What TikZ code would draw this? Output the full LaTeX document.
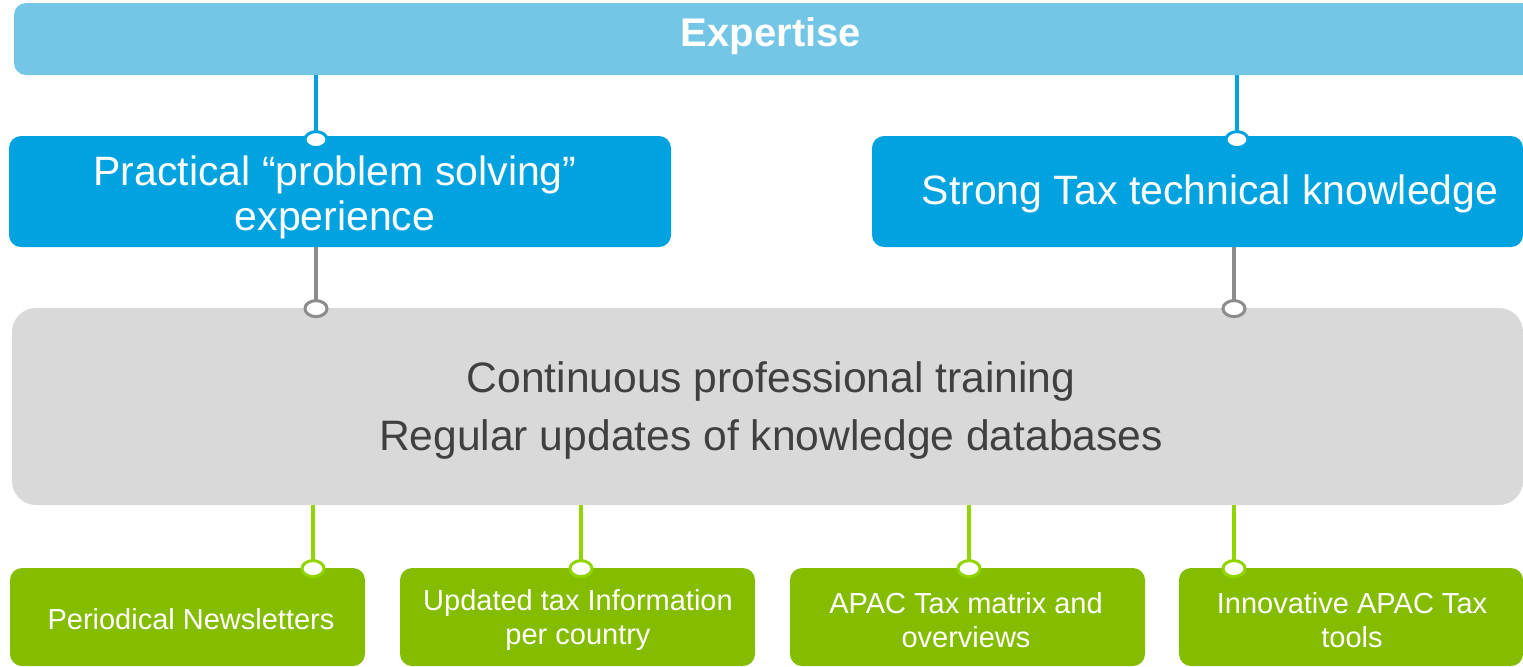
\documentclass[tikz,border=0pt]{standalone}
\usepackage{fontspec}
\setmainfont{Liberation Sans}
\definecolor{skyband}{HTML}{73C6E6}
\definecolor{bluebox}{HTML}{00A3DF}
\definecolor{greybox}{HTML}{D9D9D9}
\definecolor{greyline}{HTML}{8C8C8C}
\definecolor{greenbox}{HTML}{84BD00}
\definecolor{greenline}{HTML}{92D400}
\definecolor{darktext}{HTML}{404040}
\begin{document}
\begin{tikzpicture}[x=0.5pt,y=-0.5pt,
  box/.style={rectangle,rounded corners=6pt,inner sep=0pt,align=center,text=white},
  band/.style={box,fill=skyband,minimum width=762pt,minimum height=36pt},
  level/.style={box,fill=bluebox,minimum height=55.5pt},
  base/.style={box,rounded corners=12pt,fill=greybox,minimum width=755.5pt,minimum height=98.5pt},
  tool/.style={box,fill=greenbox,minimum height=49pt},
  label/.style={inner sep=0pt,align=center,text=white},
  link/.style={line width=2pt},
  knob/.style={fill=white,line width=1.5pt},
]
\useasboundingbox (0,0) rectangle (1523,666);

% boxes
\node[band] (expertise) at (776,39) {};
\node[level,minimum width=331pt] (practical) at (340,191.5) {};
\node[level,minimum width=325.5pt] (strong) at (1197.5,191.5) {};
\node[base] (training) at (767.5,406.5) {};
\node[tool,minimum width=177.5pt] (news) at (187.5,617) {};
\node[tool,minimum width=177.5pt] (info) at (577.5,617) {};
\node[tool,minimum width=177.5pt] (matrix) at (967.5,617) {};
\node[tool,minimum width=172pt] (innov) at (1351,617) {};

% texts
\node[label,font=\fontsize{20}{24}\selectfont\bfseries] (expertisetxt) at (771,36.5) {Expertise};
\node[label,font=\fontsize{20.5}{22.5}\selectfont] (practicaltxt) at (335,197) {Practical “problem solving”\\experience};
\node[label,font=\fontsize{20.5}{22.5}\selectfont] (strongtxt) at (1210,194) {Strong Tax technical knowledge};
\node[label,text=darktext,font=\fontsize{21.3}{29}\selectfont] (trainingtxt) at (771,410.5) {Continuous professional training\\Regular updates of knowledge databases};
\node[label,font=\fontsize{14.5}{17}\selectfont] (newstxt) at (191,619) {Periodical Newsletters};
\node[label,font=\fontsize{14.5}{17}\selectfont] (infotxt) at (578,620) {Updated tax Information\\per country};
\node[label,font=\fontsize{14.5}{17}\selectfont] (matrixtxt) at (966,620) {APAC Tax matrix and\\overviews};
\node[label,font=\fontsize{14.5}{17}\selectfont] (innovtxt) at (1352,620) {Innovative APAC Tax\\tools};

% attachment columns
\coordinate (cA) at (316,0);
\coordinate (cB) at (1237,0);
\coordinate (cC) at (1234,0);
\coordinate (cD) at (313,0);
\coordinate (cE) at (581,0);
\coordinate (cF) at (969,0);

% blue links from the band
\foreach \c/\t in {cA/practical,cB/strong}{
  \draw[link,bluebox] (expertise.south -| \c) -- ([yshift=-3pt]\t.north -| \c);
  \draw[knob,draw=bluebox] ([yshift=-2pt]\t.north -| \c) ellipse (5.5pt and 4pt);
}
% grey links to the training box
\draw[link,greyline] (practical.south -| cA) -- ([yshift=-1pt]training.north -| cA);
\draw[knob,draw=greyline] ([yshift=-0.5pt]training.north -| cA) ellipse (5.5pt and 4pt);
\draw[link,greyline] (strong.south -| cC) -- ([yshift=-1pt]training.north -| cC);
\draw[knob,draw=greyline] ([yshift=-0.5pt]training.north -| cC) ellipse (5.5pt and 4pt);
% green links to the tool boxes
\foreach \c/\t in {cD/news,cE/info,cF/matrix,cC/innov}{
  \draw[link,greenline] (training.south -| \c) -- ([yshift=-1pt]\t.north -| \c);
  \draw[knob,draw=greenline] ([yshift=-0.5pt]\t.north -| \c) ellipse (5.5pt and 4pt);
}
\end{tikzpicture}
\end{document}
